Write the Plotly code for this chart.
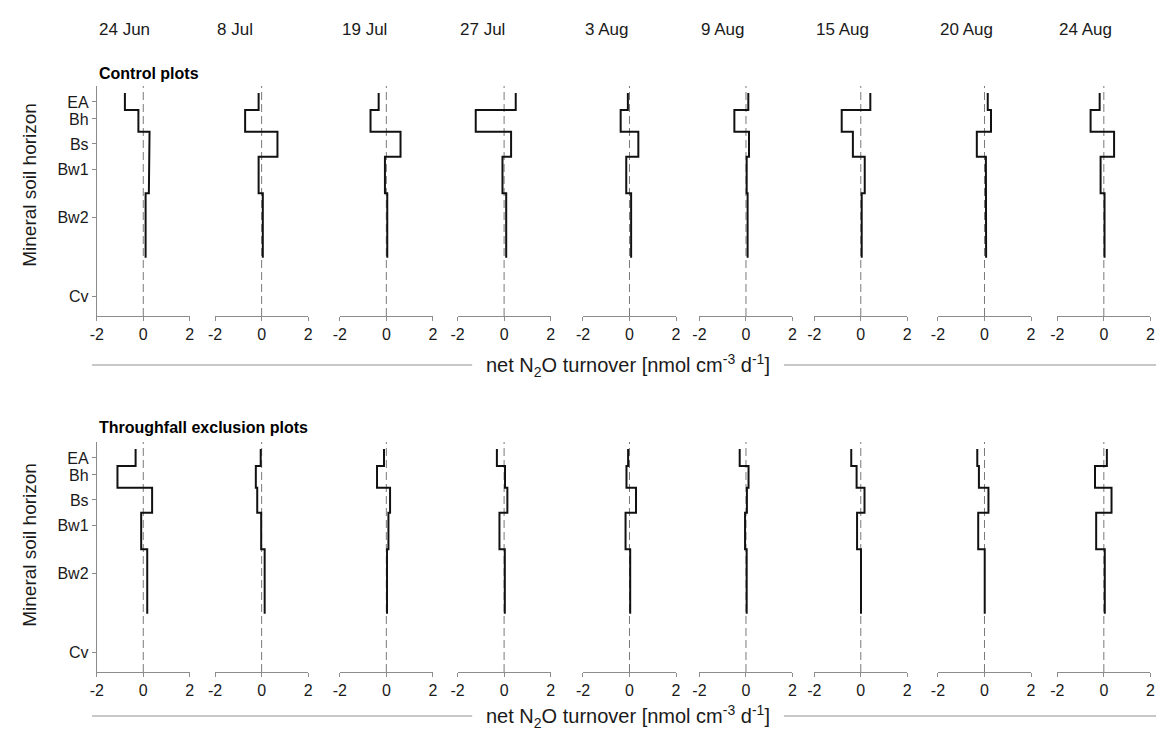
import plotly.graph_objects as go

# Sampling dates (one column of panels per date)
dates = ["24 Jun", "8 Jul", "19 Jul", "27 Jul", "3 Aug", "9 Aug", "15 Aug", "20 Aug", "24 Aug"]

# Horizon tick labels and their depth positions (cm)
horizons = ["EA", "Bh", "Bs", "Bw1", "Bw2", "Cv"]
horizon_tick_depth = [2.1, 6.1, 12.0, 17.9, 29.4, 47.8]

# Layer boundaries (cm) for EA, Bh, Bs, Bw1, Bw2
layer_bounds = [0.0, 4.0, 9.1, 15.0, 23.6, 38.8]

# Net N2O turnover [nmol cm-3 d-1], control plots, per horizon across dates
control_EA = [-0.79, -0.13, -0.33, 0.50, -0.07, 0.10, 0.41, 0.14, -0.18]
control_Bh = [-0.21, -0.71, -0.68, -1.22, -0.38, -0.50, -0.82, 0.28, -0.57]
control_Bs = [0.27, 0.68, 0.61, 0.30, 0.38, 0.13, -0.34, -0.33, 0.44]
control_Bw1 = [0.24, -0.13, -0.06, -0.07, -0.14, 0.03, 0.17, 0.06, -0.14]
control_Bw2 = [0.10, 0.05, 0.04, 0.09, 0.07, 0.07, 0.04, 0.07, 0.03]

# Net N2O turnover, throughfall exclusion plots
tfe_EA = [-0.33, -0.04, -0.10, -0.31, -0.06, -0.27, -0.41, -0.31, 0.13]
tfe_Bh = [-1.11, -0.25, -0.40, 0.04, -0.13, 0.11, -0.18, -0.24, -0.38]
tfe_Bs = [0.38, -0.19, 0.16, 0.14, 0.28, 0.04, 0.16, 0.17, 0.33]
tfe_Bw1 = [-0.09, -0.02, 0.09, -0.20, -0.17, -0.04, -0.16, -0.27, -0.33]
tfe_Bw2 = [0.17, 0.13, 0.03, 0.03, 0.03, 0.03, 0.01, 0.01, 0.04]

W, H = 1161, 733
FONT = "Liberation Sans, Arial, sans-serif"
TXT = "#1a1a1a"
AXC = "#8c8c8c"

# Panel geometry in pixels
zero_px = [137.7, 257.3, 383.3, 502.3, 629.0, 746.7, 862.7, 987.7, 1108.3]
half_w = 47.0
row_px = [(86, 316), (442, 672)]  # (top, bottom) of each row's plot area
y_range = [52.5, -1.65]

rows = [
    [control_EA, control_Bh, control_Bs, control_Bw1, control_Bw2],
    [tfe_EA, tfe_Bh, tfe_Bs, tfe_Bw1, tfe_Bw2],
]

fig = go.Figure()
layout = {}
shapes = []
annotations = []

idx = 0
for r, series in enumerate(rows):
    top, bot = row_px[r]
    ydom = [1 - bot / H, 1 - top / H]
    for c in range(len(dates)):
        idx += 1
        sfx = "" if idx == 1 else str(idx)
        vals = [s[c] for s in series]
        xs, ys = [], []
        for k, v in enumerate(vals):
            xs += [v, v]
            ys += [layer_bounds[k], layer_bounds[k + 1]]
        fig.add_trace(go.Scatter(
            x=xs, y=ys, mode="lines",
            line=dict(color="#111111", width=2),
            xaxis="x" + sfx, yaxis="y" + sfx,
            showlegend=False, hoverinfo="skip",
        ))
        xdom = [(zero_px[c] - half_w) / W, (zero_px[c] + half_w) / W]
        layout["xaxis" + sfx] = dict(
            domain=xdom, range=[-2, 2], anchor="y" + sfx,
            tickvals=[-2, 0, 2], ticktext=["-2", "0", "2"],
            ticks="outside", ticklen=4, tickcolor=AXC,
            showline=True, linecolor=AXC, linewidth=1,
            showgrid=False, zeroline=False,
            tickfont=dict(family=FONT, size=16, color=TXT),
            fixedrange=True,
        )
        first = c == 0
        layout["yaxis" + sfx] = dict(
            domain=ydom, range=y_range, anchor="x" + sfx,
            tickvals=horizon_tick_depth if first else [],
            ticktext=horizons if first else [],
            ticks="outside" if first else "", ticklen=4, tickcolor=AXC,
            showline=first, linecolor=AXC, linewidth=1,
            showgrid=False, zeroline=False, showticklabels=first,
            tickfont=dict(family=FONT, size=16, color=TXT),
            fixedrange=True,
        )
        shapes.append(dict(
            type="line", xref="x" + sfx, yref="y" + sfx + " domain",
            x0=0, x1=0, y0=0, y1=1,
            line=dict(color="#7a7a7a", width=1, dash="8px,4px"),
            layer="below",
        ))
        if r == 0:
            annotations.append(dict(
                text=dates[c], xref="x" + sfx + " domain", yref="paper",
                x=0, y=1 - 30 / H, xanchor="left", yanchor="middle",
                showarrow=False, font=dict(family=FONT, size=17, color=TXT),
            ))

# Row headings
for label, ypx in [("Control plots", 73), ("Throughfall exclusion plots", 427)]:
    annotations.append(dict(
        text="<b>" + label + "</b>", xref="paper", yref="paper",
        x=91 / W, y=1 - ypx / H, xanchor="left", yanchor="middle",
        showarrow=False, font=dict(family=FONT, size=16, color="#000000"),
    ))

# Vertical axis titles
for ypx in [185, 545]:
    annotations.append(dict(
        text="Mineral soil horizon", xref="paper", yref="paper",
        x=22 / W, y=1 - ypx / H, xanchor="center", yanchor="middle",
        textangle=-90, showarrow=False,
        font=dict(family=FONT, size=19, color=TXT),
    ))

# Shared x-axis titles with rule lines on either side
xtitle = "net N<sub>2</sub>O turnover [nmol cm<sup>-3</sup> d<sup>-1</sup>]"
for ypx in [365, 716]:
    annotations.append(dict(
        text=xtitle, xref="paper", yref="paper",
        x=627 / W, y=1 - ypx / H, xanchor="center", yanchor="middle",
        showarrow=False, font=dict(family=FONT, size=20, color=TXT),
    ))
    for x0, x1 in [(86, 470), (785, 1161)]:
        shapes.append(dict(
            type="line", xref="paper", yref="paper",
            x0=x0 / W, x1=x1 / W, y0=1 - ypx / H, y1=1 - ypx / H,
            line=dict(color="#b5b5b5", width=1.5),
        ))

fig.update_layout(
    width=W, height=H,
    margin=dict(l=0, r=0, t=0, b=0),
    paper_bgcolor="white", plot_bgcolor="white",
    shapes=shapes, annotations=annotations,
    **layout,
)

fig.write_html("out.html", config={"displayModeBar": False})
